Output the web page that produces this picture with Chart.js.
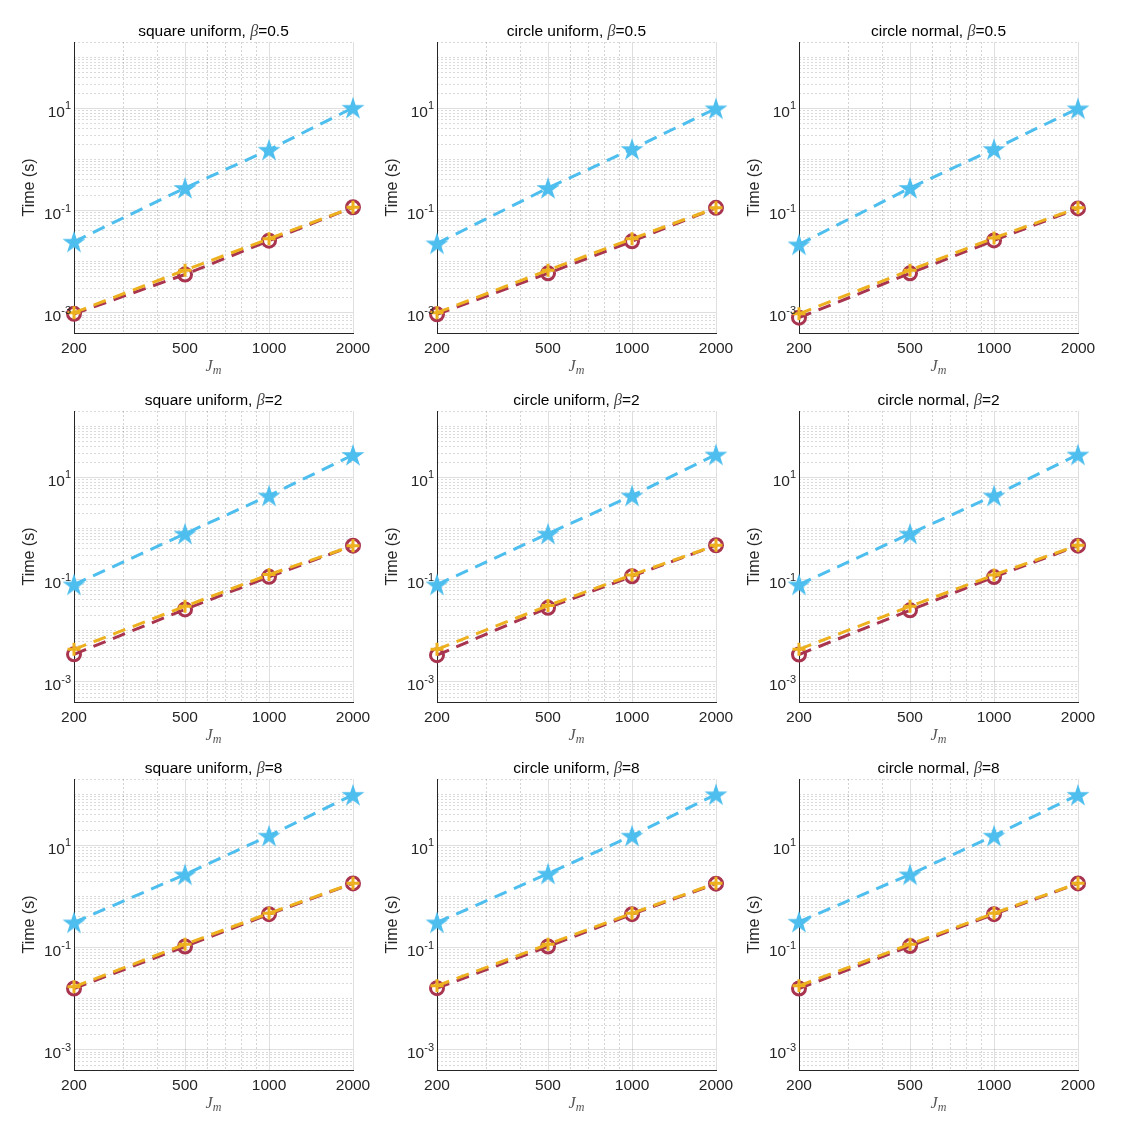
<!DOCTYPE html>
<html>
<head>
<meta charset="utf-8">
<script src="https://cdn.jsdelivr.net/npm/chart.js@4.4.1/dist/chart.umd.min.js"></script>
<style>
  html, body { margin: 0; padding: 0; background: #fff; }
  body { width: 1133px; height: 1134px; position: relative; overflow: hidden; }
  canvas { position: absolute; }
</style>
</head>
<body>
<script>
// ---------------- data ----------------
const jm = [200, 500, 1000, 2000];
const xTicks = [200, 500, 1000, 2000];
const xMinor = [300, 400, 600, 700, 800, 900];
const yTicks = [1e-3, 1e-1, 1e1];
const yExponents = ["-3", "-1", "1"];
const yMin = 4e-4;
const yMax = 200;
const distributions = ["square uniform", "circle uniform", "circle normal"];
const betas = ["0.5", "2", "8"];

// beta = 0.5
const starSqU05 = [0.0245, 0.277, 1.55, 10.3];
const circSqU05 = [0.00095, 0.0056, 0.0257, 0.116];
const plusSqU05 = [0.001, 0.0068, 0.028, 0.116];
const starCiU05 = [0.0227, 0.277, 1.6, 10.0];
const circCiU05 = [0.00093, 0.0059, 0.025, 0.113];
const plusCiU05 = [0.001, 0.0068, 0.028, 0.113];
const starCiN05 = [0.0217, 0.277, 1.6, 10.0];
const circCiN05 = [0.0008, 0.0059, 0.026, 0.11];
const plusCiN05 = [0.00095, 0.0068, 0.029, 0.113];
// beta = 2
const starSqU2 = [0.08, 0.79, 4.4, 27.5];
const circSqU2 = [0.00344, 0.026, 0.113, 0.46];
const plusSqU2 = [0.0043, 0.030, 0.125, 0.46];
const starCiU2 = [0.08, 0.79, 4.4, 28];
const circCiU2 = [0.0033, 0.028, 0.116, 0.47];
const plusCiU2 = [0.0043, 0.031, 0.123, 0.47];
const starCiN2 = [0.08, 0.79, 4.4, 28];
const circCiN2 = [0.0034, 0.025, 0.112, 0.46];
const plusCiN2 = [0.0043, 0.030, 0.123, 0.47];
// beta = 8
const starSqU8 = [0.31, 2.7, 15.5, 98];
const circSqU8 = [0.0158, 0.105, 0.45, 1.8];
const plusSqU8 = [0.017, 0.116, 0.47, 1.82];
const starCiU8 = [0.31, 2.8, 15.5, 100];
const circCiU8 = [0.016, 0.105, 0.45, 1.78];
const plusCiU8 = [0.0178, 0.116, 0.47, 1.82];
const starCiN8 = [0.32, 2.7, 15.5, 98];
const circCiN8 = [0.0158, 0.107, 0.45, 1.8];
const plusCiN8 = [0.0178, 0.116, 0.47, 1.82];

const panelSeries = [
  [[starSqU05, circSqU05, plusSqU05], [starCiU05, circCiU05, plusCiU05], [starCiN05, circCiN05, plusCiN05]],
  [[starSqU2, circSqU2, plusSqU2], [starCiU2, circCiU2, plusCiU2], [starCiN2, circCiN2, plusCiN2]],
  [[starSqU8, circSqU8, plusSqU8], [starCiU8, circCiU8, plusCiU8], [starCiN8, circCiN8, plusCiN8]],
];

// minor grid values on the y axis (1..9 x 10^n)
const yMinor = [];
for (let e = -4; e <= 2; e++) {
  for (let k = 1; k <= 9; k++) {
    const v = k * Math.pow(10, e);
    if (v >= yMin && v <= yMax && !yTicks.some((t) => Math.abs(t - v) < t * 1e-6)) yMinor.push(v);
  }
}

// ---------------- layout / styles ----------------
const colLeft = [74, 437, 799];
const rowTop = [42, 411, 779];
const plotW = 279, plotH = 291;
const padLeft = 70, padTop = 42, padBottom = 45, padRight = 22;

const cyan = "#4DBEEE", red = "#A8344F", orange = "#EDB120";
const axisColor = "#262626";
const sansFont = "'Liberation Sans', Arial, sans-serif";
const serifFont = "'Liberation Serif', 'Times New Roman', serif";

Chart.defaults.font.family = sansFont;
Chart.defaults.color = axisColor;

// filled pentagram marker
function makeStar(R, color) {
  const c = document.createElement("canvas");
  const s = Math.ceil(R * 2 + 2);
  c.width = s; c.height = s;
  const g = c.getContext("2d");
  const r = R * 0.382;
  g.beginPath();
  for (let i = 0; i < 10; i++) {
    const rad = i % 2 === 0 ? R : r;
    const ang = -Math.PI / 2 + (i * Math.PI) / 5;
    const px = s / 2 + rad * Math.cos(ang);
    const py = s / 2 + 1 + rad * Math.sin(ang);
    if (i === 0) g.moveTo(px, py); else g.lineTo(px, py);
  }
  g.closePath();
  g.fillStyle = color;
  g.fill();
  return c;
}
const starImg = makeStar(12, cyan);

// title, axis labels and 10^n tick labels
const panelText = {
  id: "panelText",
  afterDraw(chart, args, opts) {
    const { ctx, chartArea: a } = chart;
    const cx = (a.left + a.right) / 2;
    ctx.save();

    // title: "<name>, β=<beta>"
    const t1 = opts.name + ", ", t2 = "β", t3 = "=" + opts.beta;
    ctx.font = "15.5px " + sansFont;
    const w1 = ctx.measureText(t1).width, w3 = ctx.measureText(t3).width;
    ctx.font = "italic 16px " + serifFont;
    const w2 = ctx.measureText(t2).width;
    let x = cx - (w1 + w2 + w3) / 2;
    const ty = a.top - 6;
    ctx.fillStyle = "#000";
    ctx.textAlign = "left";
    ctx.textBaseline = "alphabetic";
    ctx.font = "15.5px " + sansFont;
    ctx.fillText(t1, x, ty); x += w1;
    ctx.font = "italic 16px " + serifFont;
    ctx.fillStyle = "#444";
    ctx.fillText(t2, x, ty); x += w2;
    ctx.fillStyle = "#000";
    ctx.font = "15.5px " + sansFont;
    ctx.fillText(t3, x, ty);

    // y tick labels 10^n
    ctx.fillStyle = axisColor;
    const yScale = chart.scales.y;
    yTicks.forEach((v, i) => {
      const py = yScale.getPixelForValue(v);
      const right = a.left - 3;
      ctx.font = "11px " + sansFont;
      const we = ctx.measureText(yExponents[i]).width;
      ctx.fillText(yExponents[i], right - we, py + 1);
      ctx.font = "15.5px " + sansFont;
      const wb = ctx.measureText("10").width;
      ctx.fillText("10", right - we - wb, py + 8.5);
    });

    // y label
    ctx.save();
    ctx.translate(a.left - 44, (a.top + a.bottom) / 2);
    ctx.rotate(-Math.PI / 2);
    ctx.textAlign = "center";
    ctx.textBaseline = "middle";
    ctx.font = "16px " + sansFont;
    ctx.fillText("Time (s)", 0, 0);
    ctx.restore();

    // x label J_m
    ctx.fillStyle = "#555";
    ctx.font = "italic 16px " + serifFont;
    const wj = ctx.measureText("J").width;
    ctx.font = "italic 12px " + serifFont;
    const wm = ctx.measureText("m").width;
    const lx = cx - (wj + wm) / 2;
    const ly = a.bottom + 38;
    ctx.font = "italic 16px " + serifFont;
    ctx.fillText("J", lx, ly);
    ctx.font = "italic 12px " + serifFont;
    ctx.fillText("m", lx + wj, ly + 3);

    ctx.restore();
  },
};

function toPoints(arr) {
  return jm.map((x, i) => ({ x: x, y: arr[i] }));
}

function makePanel(r, c) {
  const canvas = document.createElement("canvas");
  const w = padLeft + plotW + padRight;
  const h = padTop + plotH + padBottom;
  canvas.width = w;
  canvas.height = h;
  canvas.style.width = w + "px";
  canvas.style.height = h + "px";
  canvas.style.left = colLeft[c] - padLeft + "px";
  canvas.style.top = rowTop[r] - padTop + "px";
  document.body.appendChild(canvas);

  const [star, circ, plus] = panelSeries[r][c];
  const dash = [13, 8];

  new Chart(canvas.getContext("2d"), {
    type: "line",
    data: {
      datasets: [
        {
          data: toPoints(star),
          borderColor: cyan,
          borderWidth: 3,
          borderDash: dash,
          pointStyle: starImg,
          pointRadius: 12,
          order: 3,
          clip: false,
        },
        {
          data: toPoints(circ),
          borderColor: red,
          borderWidth: 3,
          borderDash: dash,
          pointStyle: "circle",
          pointRadius: 6.5,
          pointBorderWidth: 3,
          pointBorderColor: red,
          pointBackgroundColor: "rgba(0,0,0,0)",
          order: 2,
          clip: false,
        },
        {
          data: toPoints(plus),
          borderColor: orange,
          borderWidth: 3,
          borderDash: dash,
          pointStyle: "cross",
          pointRadius: 6.5,
          pointBorderWidth: 3,
          pointBorderColor: orange,
          order: 1,
          clip: false,
        },
      ],
    },
    options: {
      responsive: false,
      animation: false,
      layout: { padding: { top: padTop, right: padRight, left: 0, bottom: 0 } },
      plugins: {
        legend: { display: false },
        tooltip: { enabled: false },
        panelText: { name: distributions[c], beta: betas[r] },
      },
      scales: {
        x: {
          type: "logarithmic",
          position: "bottom",
          min: 200,
          max: 2000,
          afterBuildTicks: (s) => { s.ticks = xTicks.map((v) => ({ value: v })); },
          afterFit: (s) => {
            s.height = padBottom;
            s.paddingLeft = 0;
            s.paddingRight = 0;
          },
          ticks: {
            callback: (v) => String(v),
            font: { size: 15.5 },
            color: axisColor,
            padding: 6,
            maxRotation: 0,
            autoSkip: false,
          },
          grid: { color: "rgba(38,38,38,0.15)", lineWidth: 1, drawTicks: false },
          border: { color: axisColor, width: 1 },
        },
        x2: {
          type: "logarithmic",
          position: "top",
          min: 200,
          max: 2000,
          afterBuildTicks: (s) => { s.ticks = xMinor.map((v) => ({ value: v })); },
          afterFit: (s) => {
            s.height = 0;
            s.paddingLeft = 0;
            s.paddingRight = 0;
          },
          ticks: { display: false },
          grid: { color: "rgba(38,38,38,0.2)", lineWidth: 1, drawTicks: false },
          border: { display: false, dash: [2, 2] },
        },
        y: {
          type: "logarithmic",
          position: "left",
          min: yMin,
          max: yMax,
          afterBuildTicks: (s) => { s.ticks = yTicks.map((v) => ({ value: v })); },
          afterFit: (s) => {
            s.width = padLeft;
            s.paddingTop = 0;
            s.paddingBottom = 0;
          },
          ticks: { display: false },
          grid: { color: "rgba(38,38,38,0.15)", lineWidth: 1, drawTicks: false },
          border: { color: axisColor, width: 1 },
        },
        y2: {
          type: "logarithmic",
          position: "right",
          min: yMin,
          max: yMax,
          afterBuildTicks: (s) => { s.ticks = yMinor.map((v) => ({ value: v })); },
          afterFit: (s) => {
            s.width = 0;
            s.paddingTop = 0;
            s.paddingBottom = 0;
          },
          ticks: { display: false },
          grid: { color: "rgba(38,38,38,0.17)", lineWidth: 1, drawTicks: false },
          border: { display: false, dash: [2, 2] },
        },
      },
    },
    plugins: [panelText],
  });
}

for (let r = 0; r < 3; r++) {
  for (let c = 0; c < 3; c++) makePanel(r, c);
}
</script>
</body>
</html>
